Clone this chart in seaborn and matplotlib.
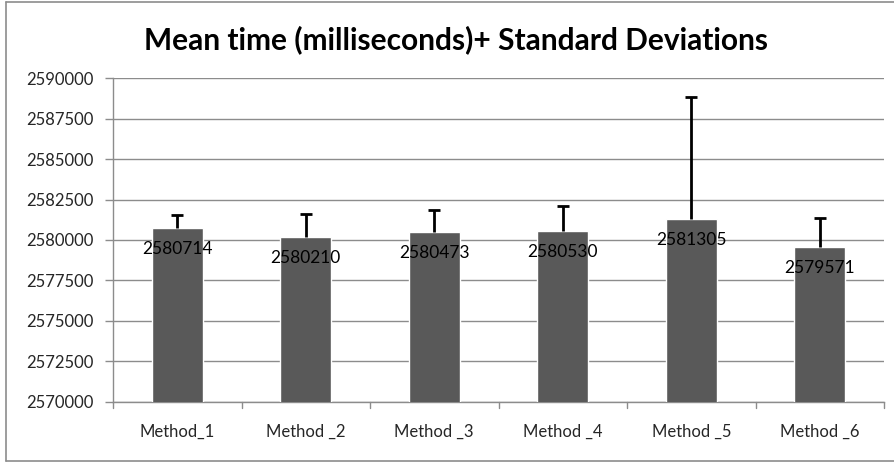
import matplotlib
matplotlib.use("Agg")
import matplotlib.pyplot as plt
import seaborn as sns
import pandas as pd
from matplotlib.lines import Line2D

methods = ["Method_1", "Method _2", "Method _3", "Method _4", "Method _5", "Method _6"]
means = [2580714, 2580210, 2580473, 2580530, 2581305, 2579571]
stds = [816, 1380, 1410, 1600, 7555, 1820]
yticks = [2570000, 2572500, 2575000, 2577500, 2580000, 2582500, 2585000, 2587500, 2590000]

sns.set_theme(style="white")
plt.rcParams["font.family"] = ["Lato", "DejaVu Sans"]

df = pd.DataFrame({"method": methods, "mean": means})

fig = plt.figure(figsize=(8.95, 4.63), dpi=100)
ax = fig.add_axes([113/895, 1-401.7/463, (884-113)/895, (401.7-78.3)/463])

sns.barplot(data=df, x="method", y="mean", color="#595959", saturation=1,
            width=0.40, errorbar=None, ax=ax, zorder=3)

xs = [p.get_x() + p.get_width()/2 for p in ax.patches]
_, caps, _ = ax.errorbar(xs, means, yerr=[[0]*len(stds), stds], fmt="none", ecolor="black",
                         elinewidth=2, capsize=4, capthick=2, zorder=4)
caps[0].set_visible(False)  # hide lower caps (only + SD shown)

for x, m in zip(xs, means):
    ax.annotate(f"{m}", (x, m), xytext=(0, -21), textcoords="offset pixels",
                ha="center", va="center", fontsize=12.5, color="black", zorder=5)

ax.set_ylim(2570000, 2590000)
ax.set_xlim(-0.5, 5.5)
ax.set_yticks(yticks)
ax.set_yticklabels([str(t) for t in yticks], fontsize=12)
ax.yaxis.grid(True, color="#8c8c8c", linewidth=1, zorder=0)
ax.set_axisbelow(True)
ax.set_xlabel("")
ax.set_ylabel("")
ax.set_xticks(range(6))
ax.set_xticklabels(methods, fontsize=12)
ax.tick_params(axis="x", length=0, pad=16)
ax.tick_params(axis="y", length=6, color="#8c8c8c", width=1, direction="out", pad=8, left=True)

# category separator ticks on x-axis
for b in [-0.5, 0.5, 1.5, 2.5, 3.5, 4.5, 5.5]:
    ax.plot([b, b], [0, -0.018], transform=ax.get_xaxis_transform(), color="#8c8c8c",
            linewidth=1, clip_on=False, zorder=2)

for s in ["top", "right"]:
    ax.spines[s].set_visible(False)
for s in ["left", "bottom"]:
    ax.spines[s].set_color("#8c8c8c")
    ax.spines[s].set_linewidth(1)

fig.text(456/895, 1-40/463, "Mean time (milliseconds)+ Standard Deviations",
         ha="center", va="center", fontsize=21.5, fontweight="bold", color="black")

# outer chart border (left, top, bottom)
bc = "#8c8c8c"
fig.add_artist(Line2D([6.5/895, 6.5/895], [1-2/463, 1-461/463], transform=fig.transFigure, color=bc, linewidth=1.2))
fig.add_artist(Line2D([6.5/895, 1.0], [1-2/463, 1-2/463], transform=fig.transFigure, color=bc, linewidth=1.2))
fig.add_artist(Line2D([6.5/895, 1.0], [1-461/463, 1-461/463], transform=fig.transFigure, color=bc, linewidth=1.2))

fig.savefig("out.png", dpi=100)
